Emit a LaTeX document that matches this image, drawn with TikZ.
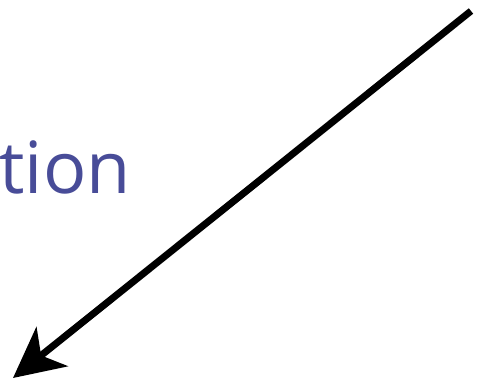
\documentclass[tikz,border=0pt]{standalone}
\usepackage{fontspec}
\newfontfamily\labelfont{Open Sans}
\usetikzlibrary{arrows.meta}
\definecolor{wordblue}{RGB}{72,76,152}

\begin{document}
\begin{tikzpicture}[x=0.5pt,y=-0.5pt]
  \useasboundingbox (0,0) rectangle (477,384);
  % word fragment at the left
  \node[anchor=base west,inner sep=0pt,text=wordblue,font=\labelfont\fontsize{36}{43}\selectfont] (word) at (-1,194) {tion};
  % long arrow
  \coordinate (start) at (471,11);
  \coordinate (tip) at (13,378);
  \draw[line width=3.5pt,-{Stealth[length=25pt,width=25pt,inset=7pt]}] (start) -- (tip);
\end{tikzpicture}
\end{document}
